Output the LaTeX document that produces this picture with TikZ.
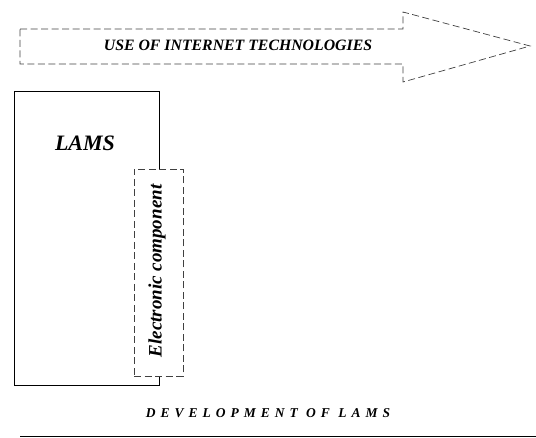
\documentclass[tikz,border=0pt]{standalone}
\usepackage{fontspec}
\setmainfont{Liberation Serif}
\newcommand{\lsp}{\hspace{0.37em}}
\begin{document}
\begin{tikzpicture}[x=1pt,y=-1pt,
  dsh/.style={draw=black!75, dash pattern=on 7pt off 3.5pt, line width=0.7pt},
  lbl/.style={font=\bfseries\itshape, inner sep=0pt}]
\useasboundingbox (0,0) rectangle (536,438);
% arrow
\draw[dsh] (20,29) -- (403,29) -- (403,12) -- (530,46) -- (403,82) -- (403,64) -- (20,64) -- cycle;
\node[lbl, font=\fontsize{15.8}{18}\selectfont\bfseries\itshape] (use) at (238,45) {USE OF INTERNET TECHNOLOGIES};
% LAMS box
\node[draw, line width=0.7pt, minimum width=145pt, minimum height=294pt, inner sep=0pt] (lams) at (86.5,238) {};
\node[lbl, font=\fontsize{22}{24}\selectfont\bfseries\itshape] (lamst) at (85,143) {LAMS};
% electronic component
\node[dsh, fill=white, minimum width=49pt, minimum height=207pt, inner sep=0pt] (ec) at (158.5,272.5) {};
\node[lbl, rotate=90, font=\fontsize{19}{21}\selectfont\bfseries\itshape] (ect) at (157,271) {Electronic component};
% bottom
\node[lbl, font=\fontsize{13.5}{15}\selectfont\bfseries\itshape] (dev) at (268,413) {D\lsp E\lsp V\lsp E\lsp L\lsp O\lsp P\lsp M\lsp E\lsp N\lsp T\lsp\ O\lsp F\lsp\ L\lsp A\lsp M\lsp S};
\coordinate (l1) at (20,436);
\coordinate (l2) at (536,436);
\draw[line width=0.9pt] (l1) -- (l2);
\end{tikzpicture}
\end{document}
